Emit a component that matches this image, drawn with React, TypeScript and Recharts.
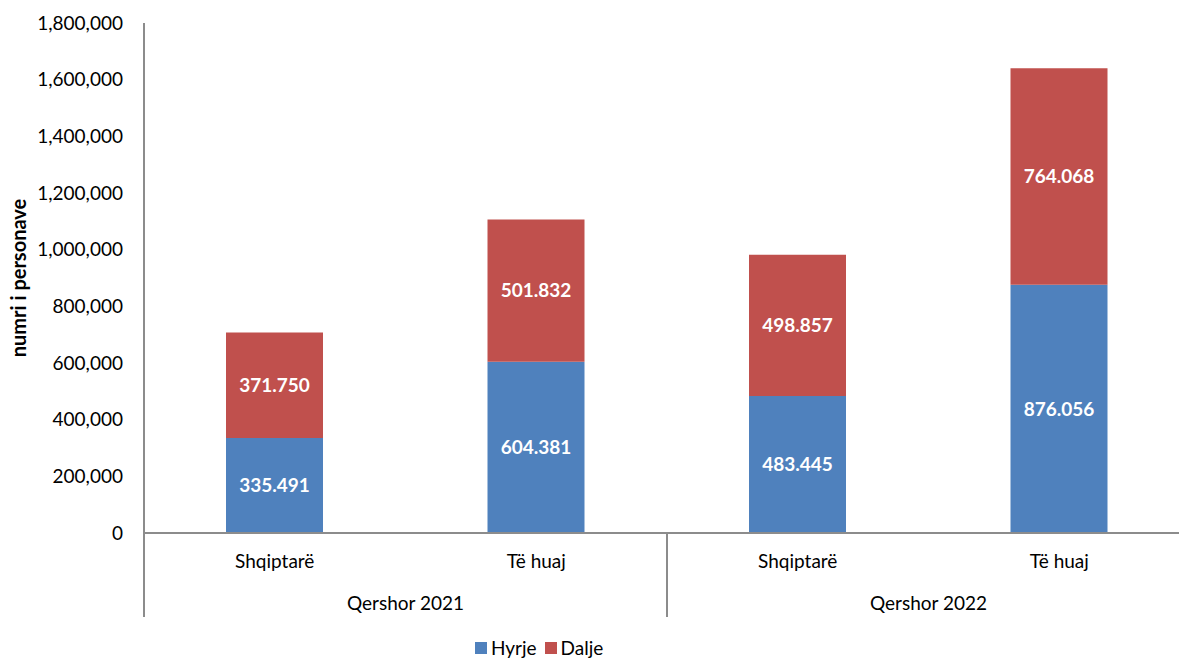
import React from "react";
import { BarChart, Bar, XAxis, YAxis, LabelList } from "recharts";

const categories = ["Shqiptarë", "Të huaj", "Shqiptarë", "Të huaj"];
const groups = ["Qershor 2021", "Qershor 2022"];
const hyrje = [335491, 604381, 483445, 876056];
const dalje = [371750, 501832, 498857, 764068];
const yTicks = [0, 200000, 400000, 600000, 800000, 1000000, 1200000, 1400000, 1600000, 1800000];

const BLUE = "#4F81BD";
const RED = "#C0504D";
const AXIS = "#8C8C8C";
const FONT = "Lato, 'Open Sans', sans-serif";

const data = categories.map((c, i) => ({ cat: c + "_" + i, label: c, hyrje: hyrje[i], dalje: dalje[i] }));

const dotted = (v: any) => Number(v).toLocaleString("en-US").replace(/,/g, ".");
const commas = (v: any) => Number(v).toLocaleString("en-US");

const CatTick = (props: any) => {
  const { x, y, payload } = props;
  const idx = data.findIndex((d) => d.cat === payload.value);
  return (
    <text x={x} y={y} dy={35} textAnchor="middle" fill="#000" fontSize={19} fontFamily={FONT}>
      {data[idx] ? data[idx].label : ""}
    </text>
  );
};

// group axis: even ticks are separators, odd ticks carry the group name
const GroupTick = (props: any) => {
  const { x, y, payload } = props;
  const v = payload.value;
  if (v % 2 === 0) {
    return <line x1={x} x2={x} y1={y - 50} y2={y + 34} stroke={AXIS} strokeWidth={2} />;
  }
  return (
    <text x={x} y={y} dy={27} textAnchor="middle" fill="#000" fontSize={19} fontFamily={FONT}>
      {groups[(v - 1) / 2]}
    </text>
  );
};

const YLabel = (props: any) => {
  const { viewBox } = props;
  const cx = 18;
  const cy = viewBox.y + viewBox.height / 2;
  return (
    <text
      x={cx}
      y={cy}
      transform={`rotate(-90, ${cx}, ${cy})`}
      textAnchor="middle"
      dominantBaseline="central"
      fontSize={20}
      fontWeight="bold"
      fontFamily={FONT}
      fill="#000"
    >
      numri i personave
    </text>
  );
};

const App = () => {
  return (
    <div
      style={{
        position: "absolute",
        left: 0,
        top: 0,
        width: 1179,
        height: 659,
        overflow: "hidden",
        background: "#fff",
        fontFamily: FONT,
      }}
    >
      <BarChart width={1200} height={659} data={data} margin={{ top: 23, right: 10, left: 0, bottom: 42 }}>
        <XAxis
          dataKey="cat"
          tick={<CatTick />}
          tickLine={false}
          tickSize={0}
          tickMargin={0}
          height={50}
          axisLine={{ stroke: AXIS, strokeWidth: 2 }}
          interval={0}
        />
        <XAxis
          xAxisId="grp"
          type="number"
          dataKey={() => 0}
          domain={[0, 4]}
          ticks={[0, 1, 2, 3, 4]}
          allowDataOverflow
          tick={<GroupTick />}
          tickLine={false}
          tickSize={0}
          tickMargin={0}
          axisLine={false}
          height={34}
          interval={0}
        />
        <YAxis
          width={144}
          domain={[0, 1800000]}
          ticks={yTicks}
          tickFormatter={commas}
          tickLine={false}
          tickSize={0}
          tickMargin={21}
          axisLine={{ stroke: AXIS, strokeWidth: 2 }}
          tick={{ fill: "#000", fontSize: 19, fontFamily: FONT }}
          interval={0}
          label={<YLabel />}
        />
        <Bar dataKey="hyrje" stackId="a" fill={BLUE} barSize={97} isAnimationActive={false}>
          <LabelList
            dataKey="hyrje"
            position="center"
            formatter={dotted}
            fill="#fff"
            fontSize={19}
            fontWeight="bold"
            fontFamily={FONT}
          />
        </Bar>
        <Bar dataKey="dalje" stackId="a" fill={RED} barSize={97} isAnimationActive={false}>
          <LabelList
            dataKey="dalje"
            position="center"
            formatter={dotted}
            fill="#fff"
            fontSize={19}
            fontWeight="bold"
            fontFamily={FONT}
          />
        </Bar>
      </BarChart>
      <div
        style={{
          position: "absolute",
          left: 475,
          top: 638,
          display: "flex",
          alignItems: "center",
          fontSize: 19,
          color: "#000",
          lineHeight: "20px",
        }}
      >
        <span style={{ width: 12, height: 12, background: BLUE, display: "inline-block", marginRight: 4 }} />
        <span style={{ marginRight: 8 }}>Hyrje</span>
        <span style={{ width: 12, height: 12, background: RED, display: "inline-block", marginRight: 4 }} />
        <span>Dalje</span>
      </div>
    </div>
  );
};

export default App;
